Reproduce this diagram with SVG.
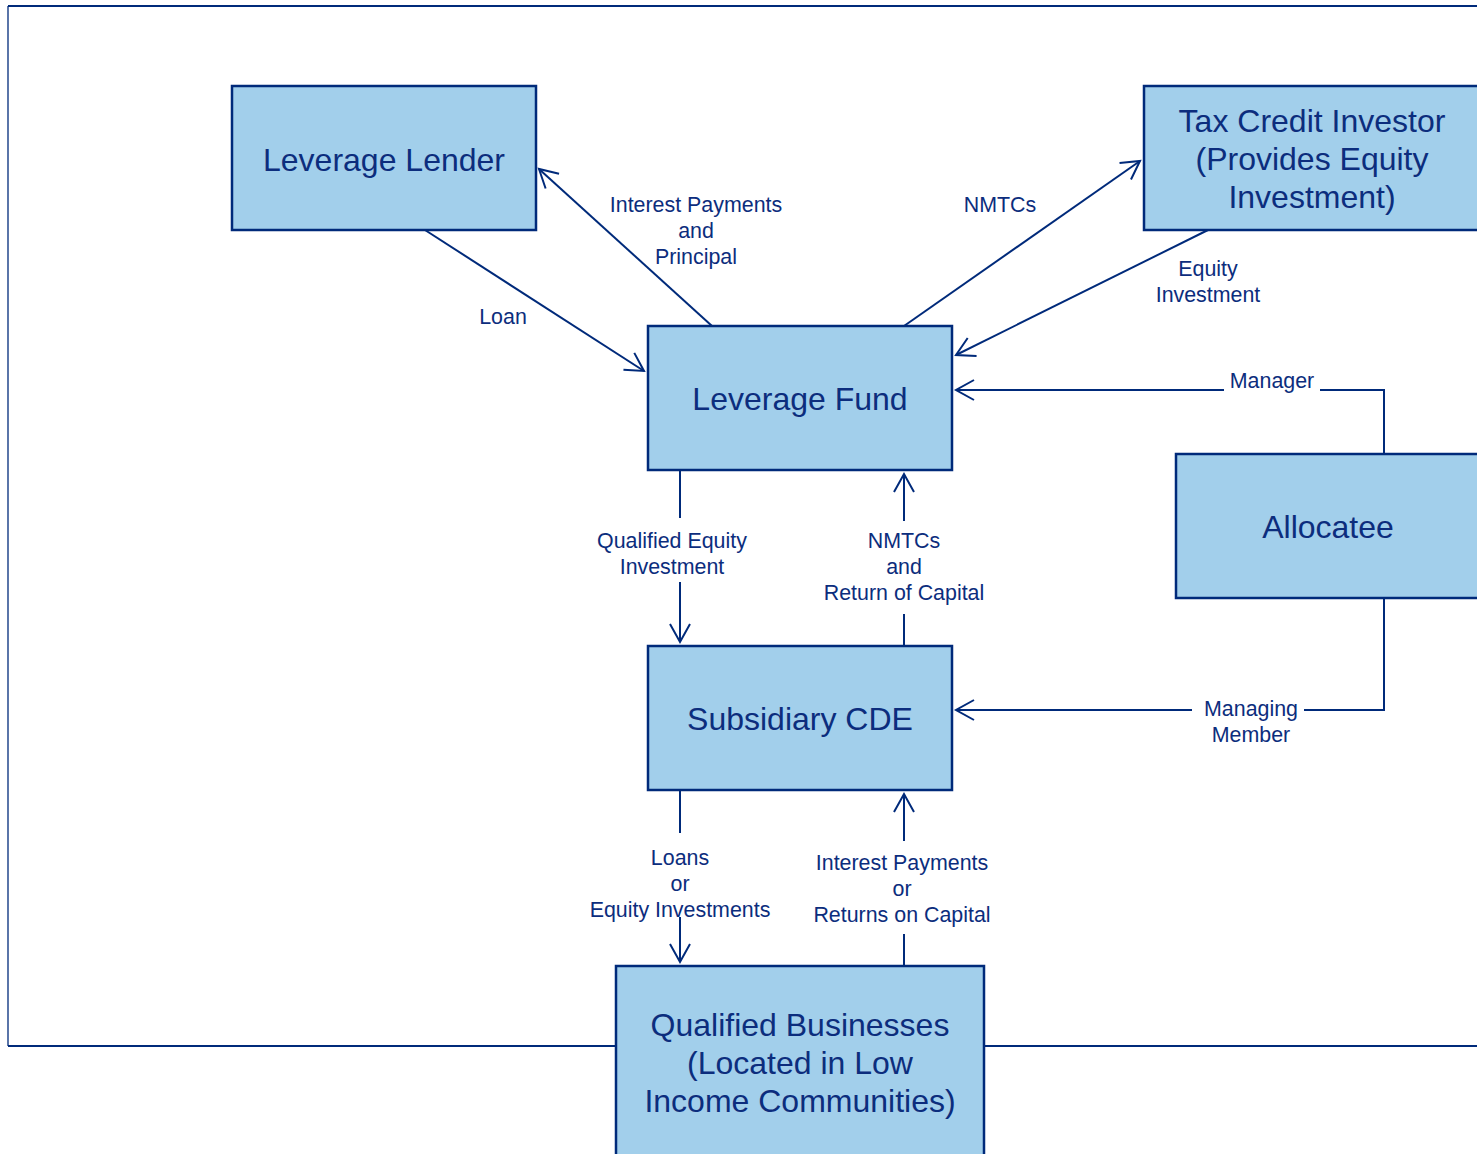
<svg xmlns="http://www.w3.org/2000/svg" width="1477" height="1154" viewBox="0 0 1477 1154">
  <style>
    .frame { fill: none; stroke: #002A7A; }
    .node rect { fill: #A2CFEB; stroke: #002A7A; stroke-width: 2.5; }
    .node text { font-family: "Liberation Sans", Arial, sans-serif; font-size: 32px; fill: #0C2D7D; text-anchor: middle; }
    .edge { fill: none; stroke: #002A7A; stroke-width: 2; }
    .lbl { font-family: "Liberation Sans", Arial, sans-serif; font-size: 21.4px; fill: #0C2D7D; text-anchor: middle; }
  </style>
  <defs>
    <marker id="arrow" markerUnits="userSpaceOnUse" markerWidth="24" markerHeight="24" viewBox="-20 -12 24 24" refX="0" refY="0" orient="auto">
      <path d="M-18,-10 L0,0 L-18,10" fill="none" stroke="#002A7A" stroke-width="2"/>
    </marker>
  </defs>

  <rect width="1477" height="1154" fill="#FFFFFF"/>

  <!-- outer border -->
  <g id="frame">
    <line class="frame" x1="8" y1="6" x2="1477" y2="6" stroke-width="2"/>
    <line class="frame" x1="8" y1="6" x2="8" y2="1046" stroke-width="1.3"/>
    <line class="frame" x1="8" y1="1046" x2="1477" y2="1046" stroke-width="2"/>
  </g>

  <!-- connectors -->
  <g id="connectors">
    <line class="edge" x1="425" y1="230" x2="644" y2="371" marker-end="url(#arrow)"/>
    <line class="edge" x1="712" y1="326" x2="539" y2="169" marker-end="url(#arrow)"/>
    <line class="edge" x1="904" y1="326" x2="1140" y2="161" marker-end="url(#arrow)"/>
    <line class="edge" x1="1208" y1="230" x2="956" y2="355" marker-end="url(#arrow)"/>

    <!-- Allocatee to Leverage Fund -->
    <polyline class="edge" points="1384,454 1384,390 1320,390"/>
    <line class="edge" x1="1224" y1="390" x2="956" y2="390" marker-end="url(#arrow)"/>

    <!-- Allocatee to Subsidiary CDE -->
    <polyline class="edge" points="1384,598 1384,710 1304,710"/>
    <line class="edge" x1="1192" y1="710" x2="956" y2="710" marker-end="url(#arrow)"/>

    <!-- Leverage Fund to Subsidiary CDE -->
    <line class="edge" x1="680" y1="470" x2="680" y2="518"/>
    <line class="edge" x1="680" y1="582" x2="680" y2="642" marker-end="url(#arrow)"/>

    <!-- Subsidiary CDE to Leverage Fund -->
    <line class="edge" x1="904" y1="646" x2="904" y2="614"/>
    <line class="edge" x1="904" y1="521" x2="904" y2="474" marker-end="url(#arrow)"/>

    <!-- Subsidiary CDE to Qualified Businesses -->
    <line class="edge" x1="680" y1="790" x2="680" y2="833"/>
    <line class="edge" x1="680" y1="917" x2="680" y2="962" marker-end="url(#arrow)"/>

    <!-- Qualified Businesses to Subsidiary CDE -->
    <line class="edge" x1="904" y1="966" x2="904" y2="934"/>
    <line class="edge" x1="904" y1="841" x2="904" y2="794" marker-end="url(#arrow)"/>

    <!-- labels -->
    <text class="lbl" x="503" y="324">Loan</text>
    <text class="lbl" x="696" y="212">Interest Payments</text>
    <text class="lbl" x="696" y="238">and</text>
    <text class="lbl" x="696" y="264">Principal</text>
    <text class="lbl" x="1000" y="212">NMTCs</text>
    <text class="lbl" x="1208" y="276">Equity</text>
    <text class="lbl" x="1208" y="302">Investment</text>
    <text class="lbl" x="1272" y="388">Manager</text>
    <text class="lbl" x="672" y="548">Qualified Equity</text>
    <text class="lbl" x="672" y="574">Investment</text>
    <text class="lbl" x="904" y="548">NMTCs</text>
    <text class="lbl" x="904" y="574">and</text>
    <text class="lbl" x="904" y="600">Return of Capital</text>
    <text class="lbl" x="1251" y="716">Managing</text>
    <text class="lbl" x="1251" y="742">Member</text>
    <text class="lbl" x="680" y="865">Loans</text>
    <text class="lbl" x="680" y="891">or</text>
    <text class="lbl" x="680" y="917">Equity Investments</text>
    <text class="lbl" x="902" y="870">Interest Payments</text>
    <text class="lbl" x="902" y="896">or</text>
    <text class="lbl" x="902" y="922">Returns on Capital</text>
  </g>

  <!-- nodes -->
  <g id="leverage-lender" class="node">
    <rect x="232" y="86" width="304" height="144"/>
    <text x="384" y="171">Leverage Lender</text>
  </g>
  <g id="tax-credit-investor" class="node">
    <rect x="1144" y="86" width="345" height="144"/>
    <text x="1312" y="132">Tax Credit Investor</text>
    <text x="1312" y="170">(Provides Equity</text>
    <text x="1312" y="208">Investment)</text>
  </g>
  <g id="leverage-fund" class="node">
    <rect x="648" y="326" width="304" height="144"/>
    <text x="800" y="410">Leverage Fund</text>
  </g>
  <g id="allocatee" class="node">
    <rect x="1176" y="454" width="313" height="144"/>
    <text x="1328" y="538">Allocatee</text>
  </g>
  <g id="subsidiary-cde" class="node">
    <rect x="648" y="646" width="304" height="144"/>
    <text x="800" y="730">Subsidiary CDE</text>
  </g>
  <g id="qualified-businesses" class="node">
    <rect x="616" y="966" width="368" height="200"/>
    <text x="800" y="1036">Qualified Businesses</text>
    <text x="800" y="1074">(Located in Low</text>
    <text x="800" y="1112">Income Communities)</text>
  </g>
</svg>
